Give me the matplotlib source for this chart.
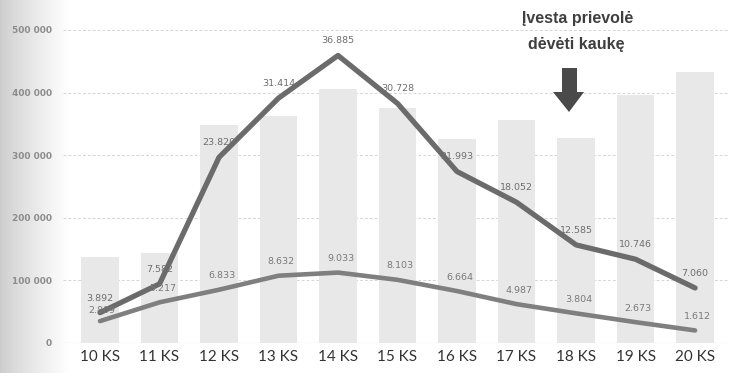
import numpy as np
import matplotlib
matplotlib.use("Agg")
import matplotlib.pyplot as plt
from matplotlib.patches import Polygon

# Weekly data (weeks 10-20)
weeks = ["10 KS", "11 KS", "12 KS", "13 KS", "14 KS", "15 KS",
         "16 KS", "17 KS", "18 KS", "19 KS", "20 KS"]
tests = [137000, 144000, 348000, 362000, 405000, 376000,
         326000, 357000, 327000, 396000, 433000]
cases_upper = [3892, 7582, 23820, 31414, 36885, 30728,
               21993, 18052, 12585, 10746, 7060]
cases_lower = [2809, 5217, 6833, 8632, 9033, 8103,
               6664, 4987, 3804, 2673, 1612]
y_ticks = [0, 100000, 200000, 300000, 400000, 500000]
y_tick_labels = ["0", "100 000", "200 000", "300 000", "400 000", "500 000"]


def fmt(v):
    return f"{v:,}".replace(",", ".")


W, H = 729, 373
fig = plt.figure(figsize=(W / 100, H / 100), dpi=100)
fig.patch.set_facecolor("white")

# soft page shadow on the left edge
grad_w = 70
g = np.linspace(0, 1, grad_w) ** 0.8
shade = np.zeros((H, grad_w, 4))
shade[..., :3] = 0.78
shade[..., 3] = (1 - g)[None, :] * 0.9
fig.figimage(shade, xo=0, yo=0, zorder=-5)

left_px, right_px, bottom_px, top_px = 63, 729, 343, 0
ax = fig.add_axes([left_px / W, (H - bottom_px) / H,
                   (right_px - left_px) / W, (bottom_px - top_px) / H])
ax.set_facecolor("none")
x = np.arange(len(weeks))

plt.rcParams["hatch.color"] = "#d6d6d6"
plt.rcParams["hatch.linewidth"] = 0.5
ax.bar(x, tests, width=0.63, color="#e8e8e8", hatch="xxxxx",
       edgecolor="none", zorder=2)

ax.set_xlim(-0.622, 10.57)
ax.set_ylim(0, 547900)
ax.set_yticks(y_ticks)
ax.set_yticklabels(y_tick_labels, fontsize=6.5, color="#8c8c8c",
                   fontfamily="DejaVu Sans", fontweight="bold")
ax.set_xticks(x)
ax.set_xticklabels(weeks, fontsize=11, color="#333333", fontfamily="Lato")
ax.tick_params(axis="both", length=0)
ax.tick_params(axis="y", pad=8)
ax.tick_params(axis="x", pad=5)
for s in ax.spines.values():
    s.set_visible(False)
ax.grid(axis="y", color="#d6d6d6", linestyle=(0, (3, 2)), linewidth=0.7, zorder=0)
ax.axhline(0, color="#c8c8c8", linewidth=0.8, zorder=1)

# case counts on a hidden secondary scale
ax2 = ax.twinx()
ax2.set_ylim(0, 44000)
ax2.set_axis_off()
ax2.plot(x, cases_upper, color="#6b6b6b", linewidth=3.8,
         solid_joinstyle="round", solid_capstyle="round", zorder=4)
ax2.plot(x, cases_lower, color="#7f7f7f", linewidth=3.3,
         solid_joinstyle="round", solid_capstyle="round", zorder=3)

label_kw = dict(textcoords="offset points", ha="center", va="center",
                fontsize=6.8, zorder=5)
for i, v in enumerate(cases_upper):
    ax2.annotate(fmt(v), (x[i], v), xytext=(0, 10.5), color="#6e6e6e", **label_kw)
# first pair of labels sits very close together; nudge the lower one down
lower_offsets = {0: (1, 7.5)}
for i, v in enumerate(cases_lower):
    ax2.annotate(fmt(v), (x[i], v), xytext=lower_offsets.get(i, (2, 10)),
                 color="#7a7a7a", **label_kw)

# annotation with arrow
fig.text(578 / W, 1 - 18 / H, "Įvesta prievolė", ha="center", va="center",
         fontsize=11.5, fontweight="bold", color="#3f3f3f",
         fontfamily="Liberation Sans")
fig.text(576 / W, 1 - 45 / H, "dėvėti kaukę", ha="center", va="center",
         fontsize=11.5, fontweight="bold", color="#3f3f3f",
         fontfamily="Liberation Sans")
arrow_px = [(562, 68), (577, 68), (577, 92), (584, 92), (569, 112),
            (553, 92), (562, 92)]
arrow = Polygon([(px / W, 1 - py / H) for px, py in arrow_px], closed=True,
                transform=fig.transFigure, facecolor="#4a4a4a",
                edgecolor="none", zorder=10)
fig.add_artist(arrow)

fig.savefig("out.png", dpi=100)
